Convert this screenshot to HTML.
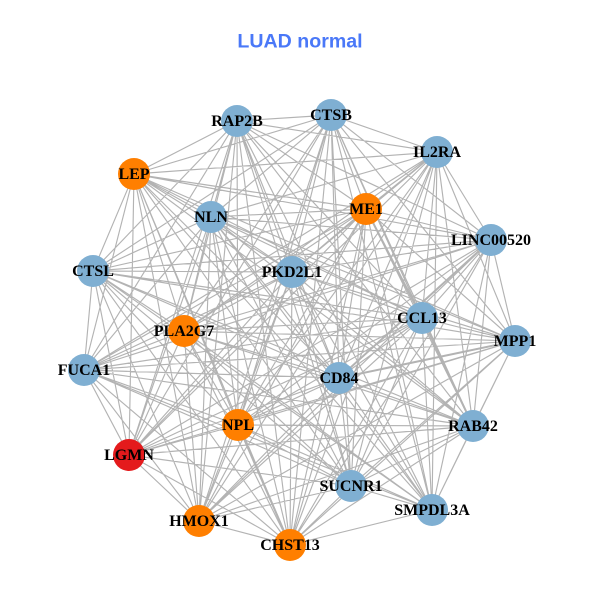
<!DOCTYPE html>
<html><head><meta charset="utf-8"><style>
html,body{margin:0;padding:0;background:#fff;width:600px;height:600px;overflow:hidden}
svg{display:block}
text.n{font:bold 16px "Liberation Serif",serif;text-anchor:middle;fill:#000}
</style></head><body>
<svg width="600" height="600" viewBox="0 0 600 600" xmlns="http://www.w3.org/2000/svg">
<rect width="600" height="600" fill="#fff"/>
<text x="300" y="47.5" text-anchor="middle" style="font:bold 19.6px 'Liberation Sans',sans-serif" fill="#4a78f8">LUAD normal</text>
<path fill="none" stroke="#b3b3b3" stroke-width="1.15" d="
M237 121L331 115M237 121L437 152M237 121L134 174M237 121L366 209M237 121L211 217M237 121L491 240M237 121L93 271M237 121L292 272M237 121L422 318M237 121L184 331M237 121L84 370M237 121L339 378M237 121L238 425M237 121L473 426M237 121L129 455M237 121L351 486M237 121L432 510M237 121L199 521M237 121L290 545
M331 115L437 152M331 115L134 174M331 115L366 209M331 115L211 217M331 115L491 240M331 115L93 271M331 115L292 272M331 115L422 318M331 115L184 331M331 115L515 341M331 115L339 378M331 115L238 425M331 115L473 426M331 115L129 455M331 115L351 486M331 115L432 510M331 115L199 521M331 115L290 545
M437 152L134 174M437 152L366 209M437 152L211 217M437 152L491 240M437 152L292 272M437 152L422 318M437 152L184 331M437 152L515 341M437 152L84 370M437 152L339 378M437 152L238 425M437 152L473 426M437 152L129 455M437 152L351 486M437 152L432 510M437 152L199 521M437 152L290 545
M134 174L366 209M134 174L211 217M134 174L491 240M134 174L93 271M134 174L292 272M134 174L422 318M134 174L184 331M134 174L515 341M134 174L84 370M134 174L339 378M134 174L238 425M134 174L473 426M134 174L129 455M134 174L351 486M134 174L432 510M134 174L199 521M134 174L290 545
M366 209L211 217M366 209L491 240M366 209L93 271M366 209L292 272M366 209L184 331M366 209L515 341M366 209L84 370M366 209L339 378M366 209L238 425M366 209L473 426M366 209L129 455M366 209L351 486M366 209L432 510M366 209L199 521M366 209L290 545
M211 217L491 240M211 217L93 271M211 217L292 272M211 217L422 318M211 217L184 331M211 217L515 341M211 217L84 370M211 217L339 378M211 217L238 425M211 217L473 426M211 217L129 455M211 217L351 486M211 217L432 510M211 217L199 521M211 217L290 545
M491 240L93 271M491 240L292 272M491 240L422 318M491 240L184 331M491 240L515 341M491 240L84 370M491 240L238 425M491 240L473 426M491 240L129 455M491 240L351 486M491 240L432 510M491 240L199 521M491 240L290 545
M93 271L292 272M93 271L422 318M93 271L184 331M93 271L515 341M93 271L84 370M93 271L339 378M93 271L238 425M93 271L473 426M93 271L129 455M93 271L351 486M93 271L432 510M93 271L199 521M93 271L290 545
M292 272L422 318M292 272L184 331M292 272L515 341M292 272L84 370M292 272L339 378M292 272L238 425M292 272L473 426M292 272L129 455M292 272L351 486M292 272L432 510M292 272L199 521M292 272L290 545
M422 318L184 331M422 318L515 341M422 318L84 370M422 318L339 378M422 318L238 425M422 318L129 455M422 318L351 486M422 318L432 510M422 318L199 521M422 318L290 545
M184 331L515 341M184 331L84 370M184 331L339 378M184 331L238 425M184 331L473 426M184 331L129 455M184 331L351 486M184 331L432 510M184 331L199 521M184 331L290 545
M515 341L84 370M515 341L238 425M515 341L473 426M515 341L129 455M515 341L351 486M515 341L432 510M515 341L199 521M515 341L290 545
M84 370L339 378M84 370L238 425M84 370L473 426M84 370L129 455M84 370L351 486M84 370L432 510M84 370L199 521M84 370L290 545
M339 378L238 425M339 378L473 426M339 378L129 455M339 378L351 486M339 378L432 510M339 378L199 521M339 378L290 545
M238 425L473 426M238 425L129 455M238 425L351 486M238 425L432 510M238 425L199 521M238 425L290 545
M473 426L129 455M473 426L351 486M473 426L432 510M473 426L199 521M473 426L290 545
M129 455L351 486M129 455L199 521M129 455L290 545
M351 486L432 510M351 486L199 521M351 486L290 545
M432 510L290 545M199 521L290 545"/>
<path fill="none" stroke="#b3b3b3" stroke-width="2" d="M422 318L473 426M366 209L422 318M491 240L339 378M515 341L339 378M238 425L290 545"/>
<g stroke="none">
<circle cx="237" cy="121" r="16" fill="#7fafd2"/>
<circle cx="331" cy="115" r="16" fill="#7fafd2"/>
<circle cx="437" cy="152" r="16" fill="#7fafd2"/>
<circle cx="134" cy="174" r="16" fill="#ff7f00"/>
<circle cx="366" cy="209" r="16" fill="#ff7f00"/>
<circle cx="211" cy="217" r="16" fill="#7fafd2"/>
<circle cx="491" cy="240" r="16" fill="#7fafd2"/>
<circle cx="93" cy="271" r="16" fill="#7fafd2"/>
<circle cx="292" cy="272" r="16" fill="#7fafd2"/>
<circle cx="422" cy="318" r="16" fill="#7fafd2"/>
<circle cx="184" cy="331" r="16" fill="#ff7f00"/>
<circle cx="515" cy="341" r="16" fill="#7fafd2"/>
<circle cx="84" cy="370" r="16" fill="#7fafd2"/>
<circle cx="339" cy="378" r="16" fill="#7fafd2"/>
<circle cx="238" cy="425" r="16" fill="#ff7f00"/>
<circle cx="473" cy="426" r="16" fill="#7fafd2"/>
<circle cx="129" cy="455" r="16" fill="#e41a1c"/>
<circle cx="351" cy="486" r="16" fill="#7fafd2"/>
<circle cx="432" cy="510" r="16" fill="#7fafd2"/>
<circle cx="199" cy="521" r="16" fill="#ff7f00"/>
<circle cx="290" cy="545" r="16" fill="#ff7f00"/>
</g>
<text class="n" x="237" y="126">RAP2B</text>
<text class="n" x="331" y="120">CTSB</text>
<text class="n" x="437" y="157">IL2RA</text>
<text class="n" x="134" y="179">LEP</text>
<text class="n" x="366" y="214">ME1</text>
<text class="n" x="211" y="222">NLN</text>
<text class="n" x="491" y="245">LINC00520</text>
<text class="n" x="93" y="276">CTSL</text>
<text class="n" x="292" y="277">PKD2L1</text>
<text class="n" x="422" y="323">CCL13</text>
<text class="n" x="184" y="336">PLA2G7</text>
<text class="n" x="515" y="346">MPP1</text>
<text class="n" x="84" y="375">FUCA1</text>
<text class="n" x="339" y="383">CD84</text>
<text class="n" x="238" y="430">NPL</text>
<text class="n" x="473" y="431">RAB42</text>
<text class="n" x="129" y="460">LGMN</text>
<text class="n" x="351" y="491">SUCNR1</text>
<text class="n" x="432" y="515">SMPDL3A</text>
<text class="n" x="199" y="526">HMOX1</text>
<text class="n" x="290" y="550">CHST13</text>
</svg>
</body></html>
